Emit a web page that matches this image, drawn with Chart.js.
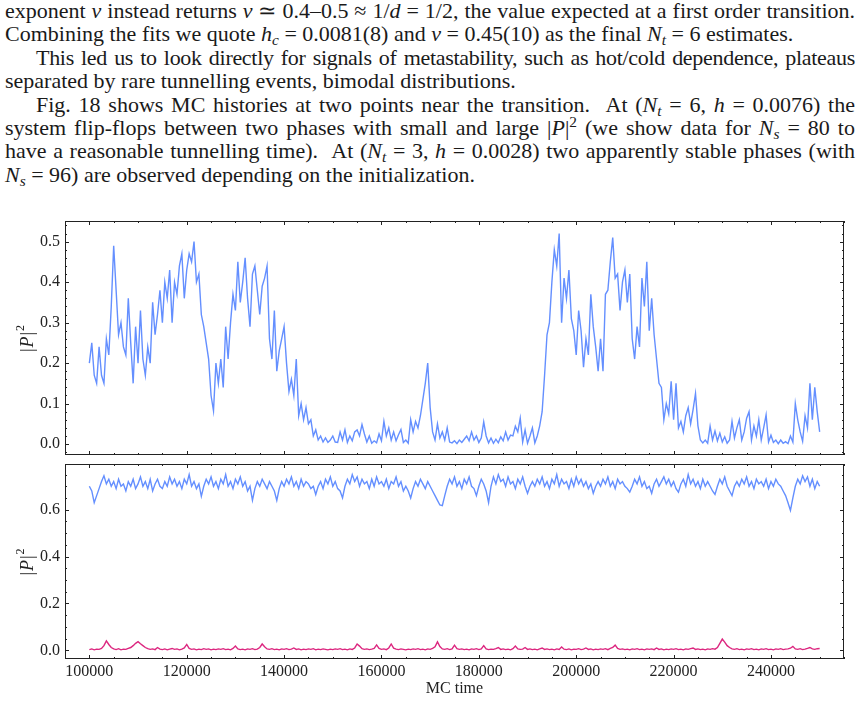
<!DOCTYPE html>
<html>
<head>
<meta charset="utf-8">
<script src="https://cdn.jsdelivr.net/npm/chart.js@4.4.0/dist/chart.umd.min.js"></script>
<style>
  html, body { margin: 0; padding: 0; background: #fff; }
  body { width: 863px; height: 702px; position: relative; overflow: hidden; }
  #text { position: absolute; left: 5px; top: -1px; width: 850px; font-family: "Liberation Serif", serif; font-size: 22px; line-height: 23.4px; color: #1a1a1a; }
  .l { height: 23.4px; white-space: nowrap; }
  .j { text-align: justify; text-align-last: justify; white-space: normal; }
  .ind { padding-left: 31px; }
  .tight { letter-spacing: -0.3px; }
  sub, sup { font-size: 0.7em; line-height: 0; }
  sub { vertical-align: -0.25em; }
  sup { vertical-align: 0.5em; }
  canvas { position: absolute; left: 0; }
</style>
</head>
<body>
<div id="text">
  <div class="l j">exponent <i>ν</i> instead returns <i>ν</i> ≃ 0.4–0.5 ≈ 1/<i>d</i> = 1/2, the value expected at a first order transition.</div>
  <div class="l">Combining the fits we quote <i>h</i><sub><i>c</i></sub> = 0.0081(8) and <i>ν</i> = 0.45(10) as the final <i>N</i><sub><i>t</i></sub> = 6 estimates.</div>
  <div class="l j ind tight">This led us to look directly for signals of metastability, such as hot/cold dependence, plateaus</div>
  <div class="l">separated by rare tunnelling events, bimodal distributions.</div>
  <div class="l j ind">Fig. 18 shows MC histories at two points near the transition. &nbsp;At (<i>N</i><sub><i>t</i></sub> = 6, <i>h</i> = 0.0076) the</div>
  <div class="l j">system flip-flops between two phases with small and large |<i>P</i>|<sup>2</sup> (we show data for <i>N</i><sub><i>s</i></sub> = 80 to</div>
  <div class="l j">have a reasonable tunnelling time). &nbsp;At (<i>N</i><sub><i>t</i></sub> = 3, <i>h</i> = 0.0028) two apparently stable phases (with</div>
  <div class="l"><i>N</i><sub><i>s</i></sub> = 96) are observed depending on the initialization.</div>
</div>
<canvas id="topChart" width="863" height="260" style="top:200px"></canvas>
<canvas id="bottomChart" width="863" height="242" style="top:460px"></canvas>
<script>
// MC histories sampled every 500 MC steps from 100000 to 250000
const mcStart = 100000;
const mcStep = 500;

// N_t = 6, h = 0.0076, N_s = 80
const flipFlop = [
  0.20, 0.25, 0.17, 0.15, 0.24, 0.17, 0.15, 0.26, 0.22, 0.34,
  0.49, 0.38, 0.27, 0.30, 0.24, 0.22, 0.36, 0.25, 0.15, 0.29,
  0.20, 0.33, 0.21, 0.17, 0.24, 0.20, 0.35, 0.27, 0.32, 0.38,
  0.30, 0.40, 0.36, 0.43, 0.30, 0.40, 0.37, 0.44, 0.47, 0.36,
  0.43, 0.47, 0.45, 0.50, 0.40, 0.42, 0.32, 0.29, 0.25, 0.21,
  0.12, 0.082, 0.20, 0.15, 0.21, 0.14, 0.29, 0.21, 0.30, 0.37,
  0.33, 0.45, 0.35, 0.40, 0.46, 0.36, 0.29, 0.42, 0.44, 0.38,
  0.32, 0.39, 0.41, 0.44, 0.26, 0.21, 0.33, 0.18, 0.23, 0.26,
  0.29, 0.20, 0.13, 0.16, 0.12, 0.21, 0.07, 0.10, 0.06, 0.09,
  0.05, 0.06, 0.02, 0.035, 0.01, 0.02, 0.005, 0.015, 0.004, 0.01,
  0.02, 0.005, 0.004, 0.03, 0.01, 0.035, 0.004, 0.02, 0.008, 0.03,
  0.035, 0.02, 0.048, 0.025, 0.005, 0.02, 0.002, 0.008, 0.003, 0.025,
  0.008, 0.056, 0.02, 0.04, 0.01, 0.03, 0.008, 0.023, 0.036, 0.004,
  0.01, 0.002, 0.06, 0.03, 0.056, 0.04, 0.07, 0.11, 0.15, 0.20,
  0.09, 0.03, 0.01, 0.05, 0.015, 0.03, 0.01, 0.04, 0.005, 0.003,
  0.008, 0.001, 0.01, 0.004, 0.012, 0.02, 0.008, 0.03, 0.01, 0.02,
  0.004, 0.015, 0.055, 0.02, 0.003, 0.015, 0.002, 0.012, 0.003, 0.018,
  0.008, 0.03, 0.01, 0.022, 0.02, 0.044, 0.03, 0.064, 0.005, 0.035,
  0.002, 0.02, 0.04, 0.003, 0.02, 0.045, 0.08, 0.17, 0.27, 0.30,
  0.40, 0.48, 0.44, 0.52, 0.30, 0.41, 0.36, 0.43, 0.31, 0.28,
  0.22, 0.33, 0.28, 0.19, 0.26, 0.22, 0.37, 0.29, 0.24, 0.18,
  0.26, 0.18, 0.37, 0.38, 0.45, 0.51, 0.41, 0.42, 0.33, 0.40,
  0.43, 0.35, 0.42, 0.26, 0.21, 0.29, 0.24, 0.41, 0.34, 0.45,
  0.28, 0.36, 0.27, 0.21, 0.15, 0.14, 0.06, 0.10, 0.075, 0.155,
  0.06, 0.15, 0.04, 0.056, 0.03, 0.07, 0.09, 0.05, 0.085, 0.125,
  0.045, 0.01, 0.003, 0.01, 0.002, 0.044, 0.01, 0.032, 0.008, 0.027,
  0.005, 0.018, 0.002, 0.01, 0.056, 0.015, 0.04, 0.06, 0.01, 0.03,
  0.064, 0.08, 0.01, 0.045, 0.02, 0.06, 0.01, 0.04, 0.072, 0.005,
  0.022, 0.004, 0.01, 0.001, 0.01, 0.002, 0.006, 0.001, 0.02, 0.005,
  0.10, 0.06, 0.03, 0.007, 0.07, 0.04, 0.15, 0.06, 0.14, 0.08, 0.03
];

// N_t = 3, h = 0.0028, N_s = 96: ordered start
const stableHigh = [
  0.70, 0.68, 0.63, 0.66, 0.69, 0.72, 0.745, 0.71, 0.73, 0.70,
  0.72, 0.69, 0.73, 0.70, 0.71, 0.68, 0.72, 0.70, 0.73, 0.69,
  0.71, 0.74, 0.70, 0.72, 0.69, 0.73, 0.68, 0.71, 0.73, 0.70,
  0.69, 0.72, 0.70, 0.74, 0.71, 0.73, 0.70, 0.72, 0.69, 0.73,
  0.71, 0.75, 0.70, 0.72, 0.69, 0.71, 0.657, 0.70, 0.73, 0.71,
  0.74, 0.70, 0.72, 0.69, 0.73, 0.71, 0.75, 0.70, 0.72, 0.69,
  0.73, 0.71, 0.74, 0.70, 0.72, 0.68, 0.70, 0.64, 0.69, 0.72,
  0.70, 0.73, 0.71, 0.69, 0.72, 0.70, 0.68, 0.64, 0.69, 0.72,
  0.70, 0.73, 0.71, 0.74, 0.70, 0.72, 0.69, 0.73, 0.70, 0.72,
  0.71, 0.69, 0.70, 0.665, 0.70, 0.72, 0.69, 0.73, 0.71, 0.74,
  0.70, 0.72, 0.69, 0.68, 0.65, 0.70, 0.73, 0.71, 0.75, 0.72,
  0.74, 0.70, 0.73, 0.71, 0.72, 0.69, 0.73, 0.70, 0.74, 0.71,
  0.72, 0.70, 0.73, 0.69, 0.72, 0.71, 0.74, 0.70, 0.72, 0.68,
  0.70, 0.68, 0.65, 0.69, 0.72, 0.70, 0.73, 0.71, 0.69, 0.72,
  0.70, 0.68, 0.66, 0.64, 0.62, 0.617, 0.66, 0.70, 0.73, 0.71,
  0.74, 0.70, 0.72, 0.69, 0.73, 0.71, 0.74, 0.70, 0.69, 0.66,
  0.70, 0.73, 0.71, 0.68, 0.63, 0.70, 0.74, 0.71, 0.75, 0.72,
  0.73, 0.70, 0.74, 0.71, 0.72, 0.69, 0.73, 0.71, 0.74, 0.70,
  0.67, 0.70, 0.72, 0.70, 0.73, 0.71, 0.74, 0.70, 0.72, 0.69,
  0.73, 0.71, 0.75, 0.70, 0.73, 0.71, 0.72, 0.69, 0.73, 0.70,
  0.74, 0.71, 0.73, 0.70, 0.72, 0.69, 0.71, 0.67, 0.70, 0.72,
  0.70, 0.73, 0.71, 0.74, 0.70, 0.72, 0.69, 0.73, 0.71, 0.72,
  0.70, 0.69, 0.675, 0.70, 0.73, 0.71, 0.74, 0.70, 0.72, 0.69,
  0.70, 0.67, 0.71, 0.73, 0.70, 0.72, 0.74, 0.71, 0.73, 0.70,
  0.72, 0.69, 0.675, 0.71, 0.73, 0.70, 0.75, 0.71, 0.73, 0.70,
  0.72, 0.69, 0.73, 0.70, 0.72, 0.70, 0.68, 0.665, 0.70, 0.73,
  0.71, 0.74, 0.70, 0.68, 0.66, 0.70, 0.72, 0.70, 0.73, 0.71,
  0.74, 0.70, 0.72, 0.69, 0.73, 0.71, 0.72, 0.70, 0.73, 0.69,
  0.72, 0.70, 0.73, 0.71, 0.70, 0.68, 0.66, 0.63, 0.597, 0.65,
  0.70, 0.73, 0.71, 0.745, 0.72, 0.74, 0.70, 0.73, 0.69, 0.72, 0.70
];

// N_t = 3, h = 0.0028, N_s = 96: disordered start
const stableLow = [
  0.003, 0.006, 0.002, 0.005, 0.004, 0.008, 0.02, 0.04, 0.025, 0.012,
  0.006, 0.003, 0.007, 0.002, 0.005, 0.004, 0.008, 0.012, 0.02, 0.03,
  0.037, 0.028, 0.02, 0.012, 0.007, 0.004, 0.006, 0.003, 0.012, 0.005,
  0.003, 0.006, 0.002, 0.005, 0.008, 0.004, 0.006, 0.002, 0.005, 0.01,
  0.025, 0.008, 0.004, 0.006, 0.002, 0.005, 0.003, 0.007, 0.004, 0.006,
  0.002, 0.005, 0.003, 0.006, 0.004, 0.007, 0.003, 0.005, 0.002, 0.008,
  0.018, 0.006, 0.003, 0.005, 0.002, 0.006, 0.004, 0.007, 0.003, 0.005,
  0.012, 0.027, 0.015, 0.006, 0.004, 0.007, 0.003, 0.005, 0.002, 0.006,
  0.004, 0.007, 0.003, 0.005, 0.01, 0.004, 0.006, 0.002, 0.005, 0.003,
  0.006, 0.004, 0.007, 0.002, 0.005, 0.003, 0.006, 0.004, 0.002, 0.005,
  0.003, 0.006, 0.004, 0.007, 0.003, 0.005, 0.002, 0.006, 0.004, 0.01,
  0.027, 0.018, 0.007, 0.004, 0.006, 0.003, 0.005, 0.008, 0.023, 0.008,
  0.004, 0.006, 0.003, 0.01, 0.027, 0.009, 0.005, 0.003, 0.006, 0.004,
  0.002, 0.005, 0.003, 0.006, 0.004, 0.007, 0.003, 0.005, 0.002, 0.006,
  0.004, 0.008, 0.015, 0.036, 0.016, 0.006, 0.004, 0.007, 0.003, 0.006,
  0.022, 0.007, 0.004, 0.006, 0.003, 0.005, 0.002, 0.006, 0.004, 0.007,
  0.003, 0.006, 0.02, 0.006, 0.003, 0.005, 0.004, 0.007, 0.012, 0.004,
  0.006, 0.003, 0.005, 0.002, 0.007, 0.018, 0.006, 0.004, 0.005, 0.012,
  0.004, 0.006, 0.003, 0.005, 0.002, 0.006, 0.01, 0.004, 0.006, 0.003,
  0.005, 0.002, 0.006, 0.004, 0.014, 0.005, 0.003, 0.006, 0.002, 0.005,
  0.004, 0.007, 0.003, 0.005, 0.01, 0.004, 0.006, 0.002, 0.005, 0.003,
  0.006, 0.004, 0.007, 0.003, 0.008, 0.012, 0.022, 0.008, 0.004, 0.006,
  0.003, 0.005, 0.002, 0.006, 0.004, 0.007, 0.003, 0.005, 0.002, 0.006,
  0.004, 0.006, 0.003, 0.01, 0.004, 0.006, 0.002, 0.005, 0.003, 0.006,
  0.004, 0.007, 0.003, 0.005, 0.002, 0.006, 0.004, 0.007, 0.01, 0.004,
  0.006, 0.003, 0.005, 0.002, 0.006, 0.004, 0.007, 0.005, 0.012, 0.03,
  0.048, 0.035, 0.02, 0.012, 0.006, 0.004, 0.007, 0.003, 0.005, 0.002,
  0.006, 0.004, 0.007, 0.003, 0.005, 0.002, 0.006, 0.004, 0.007, 0.003,
  0.005, 0.002, 0.006, 0.004, 0.007, 0.003, 0.005, 0.006, 0.009, 0.017,
  0.006, 0.004, 0.007, 0.003, 0.005, 0.008, 0.012, 0.006, 0.004, 0.007, 0.008
];

const xTicks = [100000, 120000, 140000, 160000, 180000, 200000, 220000, 240000];
const topYTicks = [0.0, 0.1, 0.2, 0.3, 0.4, 0.5];
const bottomYTicks = [0.0, 0.2, 0.4, 0.6];

const BLUE = '#648FFF';
const PINK = '#DC267F';
const INK = '#222';

Chart.defaults.font.family = '"Liberation Serif", serif';
const tickFont = { family: '"Liberation Serif", serif', size: 16, lineHeight: 1 };

const mcTime = flipFlop.map((_, i) => mcStart + i * mcStep);
const toPoints = vals => vals.map((v, i) => ({ x: mcTime[i], y: v }));

// box + inward major/minor ticks on all four sides, plus the |P|^2 label
const frame = {
  id: 'frame',
  afterDraw(chart, args, opts) {
    const { ctx, chartArea: a, scales: { x, y } } = chart;
    ctx.save();
    ctx.strokeStyle = INK;
    ctx.lineWidth = 1;
    ctx.strokeRect(a.left + 0.5, a.top + 0.5, a.right - a.left - 1, a.bottom - a.top - 1);

    ctx.beginPath();
    for (let k = Math.ceil(x.min / 5000); k * 5000 <= x.max; k++) {
      const v = k * 5000;
      const len = v % 20000 === 0 ? 4 : 2;
      const px = Math.round(x.getPixelForValue(v)) + 0.5;
      ctx.moveTo(px, a.bottom); ctx.lineTo(px, a.bottom - len);
      ctx.moveTo(px, a.top); ctx.lineTo(px, a.top + len);
    }
    const st = opts.yMinor;
    const per = opts.yMajorEvery;
    for (let k = Math.ceil(y.min / st); k * st <= y.max + 1e-9; k++) {
      const len = k % per === 0 ? 4 : 2;
      const py = Math.round(y.getPixelForValue(k * st)) + 0.5;
      ctx.moveTo(a.left, py); ctx.lineTo(a.left + len, py);
      ctx.moveTo(a.right, py); ctx.lineTo(a.right - len, py);
    }
    ctx.stroke();

    // y label |P|^2, rotated
    ctx.translate(28, (a.top + a.bottom) / 2);
    ctx.rotate(-Math.PI / 2);
    ctx.fillStyle = INK;
    ctx.textBaseline = 'middle';
    const parts = [
      ['|', '18px "Liberation Serif"', 0],
      ['P', 'italic 18px "Liberation Serif"', 0],
      ['|', '18px "Liberation Serif"', 0],
      ['2', '12px "Liberation Serif"', -7]
    ];
    let w = 0;
    parts.forEach(p => { ctx.font = p[1]; p.push(ctx.measureText(p[0]).width + 1); w += p[3]; });
    let tx = -w / 2;
    parts.forEach(p => { ctx.font = p[1]; ctx.fillText(p[0], tx, p[2]); tx += p[3]; });
    ctx.restore();
  }
};

function panel(id, datasets, cfg) {
  return new Chart(document.getElementById(id), {
    type: 'line',
    data: { datasets },
    options: {
      responsive: false,
      animation: false,
      events: [],
      normalized: true,
      layout: { padding: cfg.padding },
      plugins: {
        legend: { display: false },
        tooltip: { enabled: false },
        frame: { yMinor: cfg.yMinor, yMajorEvery: cfg.yMajorEvery }
      },
      elements: { point: { radius: 0 }, line: { borderWidth: 1.4, tension: 0 } },
      scales: {
        x: {
          type: 'linear',
          min: 95000,
          max: 255000,
          display: cfg.showX,
          grid: { display: false, drawTicks: false },
          border: { display: false },
          afterBuildTicks: s => { s.ticks = xTicks.map(v => ({ value: v })); },
          afterFit: s => { s.height = cfg.showX ? 43 : 0; s.paddingLeft = 0; s.paddingRight = 0; },
          ticks: { padding: 5, font: tickFont, color: INK, maxRotation: 0, autoSkip: false, callback: v => String(v) },
          title: { display: cfg.showX, text: 'MC time', font: tickFont, color: INK, padding: { top: 0, bottom: 5 } }
        },
        y: {
          type: 'linear',
          min: cfg.yMin,
          max: cfg.yMax,
          grid: { display: false, drawTicks: false },
          border: { display: false },
          afterBuildTicks: s => { s.ticks = cfg.yTicks.map(v => ({ value: v })); },
          afterFit: s => { s.width = 65; s.paddingTop = 0; s.paddingBottom = 0; },
          ticks: { padding: 5, font: tickFont, color: INK, callback: v => v.toFixed(1) }
        }
      }
    },
    plugins: [frame]
  });
}

panel('topChart', [
  { data: toPoints(flipFlop), borderColor: BLUE }
], {
  padding: { top: 21, right: 19, bottom: 5, left: 0 },
  yMin: -0.027, yMax: 0.551, yTicks: topYTicks, yMinor: 0.02, yMajorEvery: 5, showX: false
});

panel('bottomChart', [
  { data: toPoints(stableHigh), borderColor: BLUE },
  { data: toPoints(stableLow), borderColor: PINK }
], {
  padding: { top: 4, right: 19, bottom: 0, left: 0 },
  yMin: -0.037, yMax: 0.795, yTicks: bottomYTicks, yMinor: 0.05, yMajorEvery: 4, showX: true
});
</script>
</body>
</html>
